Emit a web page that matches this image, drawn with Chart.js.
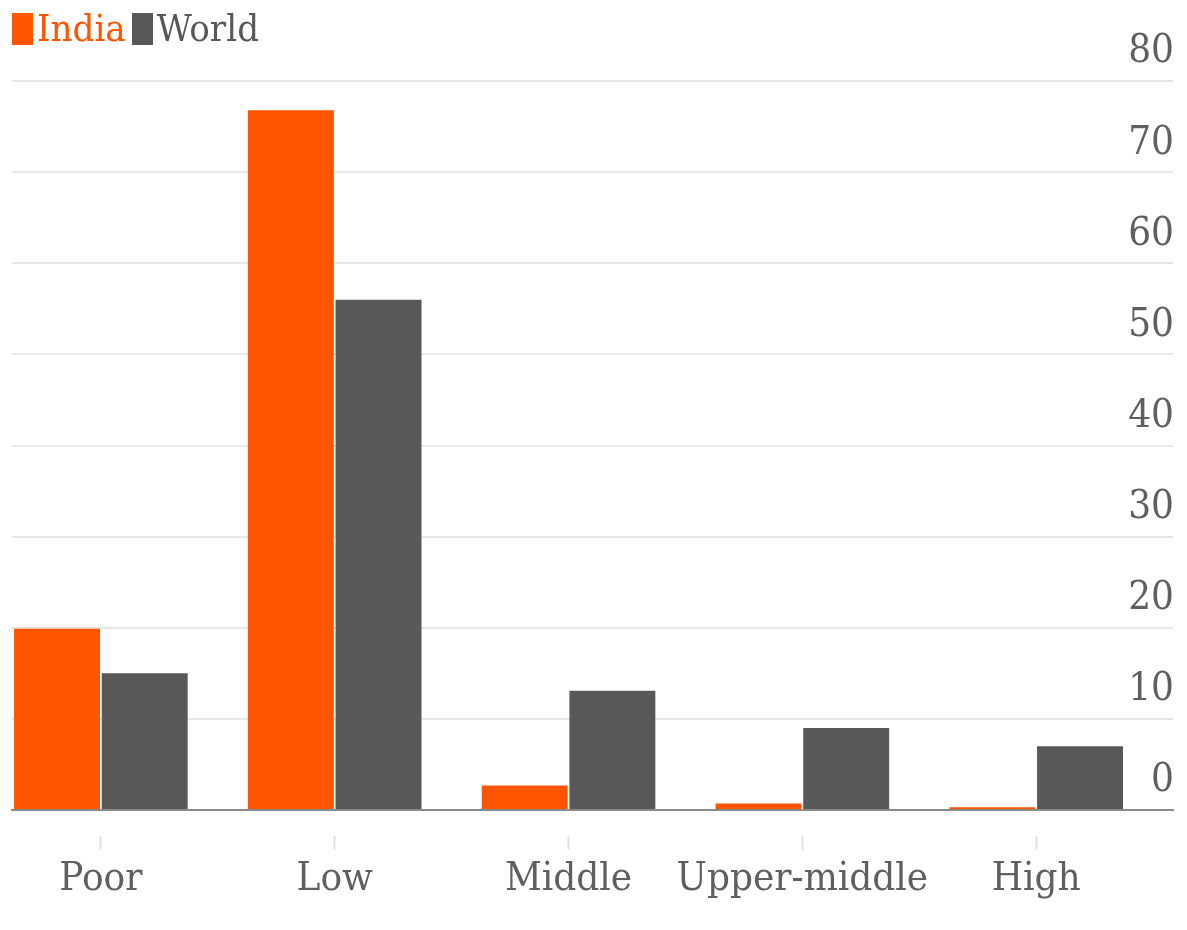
<!DOCTYPE html>
<html>
<head>
<meta charset="utf-8">
<script src="https://cdn.jsdelivr.net/npm/chart.js@4/dist/chart.umd.min.js"></script>
<style>
  html, body { margin: 0; padding: 0; background: #fff; }
  #wrap { position: relative; width: 1187px; height: 930px; }
  #legend { position: absolute; left: 12px; top: 5px; font-family: "DejaVu Serif Condensed", "DejaVu Serif", serif; font-size: 38px; line-height: 46px; white-space: nowrap; }
  #legend .item { display: inline-block; margin-right: 6px; }
  #legend .box { display: inline-block; width: 21px; height: 32px; vertical-align: -4px; margin-right: 4px; }
</style>
</head>
<body>
<div id="wrap">
  <canvas id="chart" width="1187" height="930"></canvas>
  <div id="legend"></div>
</div>
<script>
// Income groups and share of population in each (%)
const categories = ['Poor', 'Low', 'Middle', 'Upper-middle', 'High'];
const indiaValues = [19.9, 76.8, 2.7, 0.7, 0.3];
const worldValues = [15.0, 56.0, 13.1, 9.0, 7.0];
const yTicks = [0, 10, 20, 30, 40, 50, 60, 70, 80];

const ORANGE = '#ff5500';
const GREY = '#585858';
const FONT = '"DejaVu Serif Condensed", "DejaVu Serif", serif';

const series = [
  { label: 'India', values: indiaValues, color: ORANGE },
  { label: 'World', values: worldValues, color: GREY }
];

// Legend
const legend = document.getElementById('legend');
series.forEach(s => {
  const item = document.createElement('span');
  item.className = 'item';
  item.style.color = s.color;
  const box = document.createElement('span');
  box.className = 'box';
  box.style.background = s.color;
  item.appendChild(box);
  item.appendChild(document.createTextNode(s.label));
  legend.appendChild(item);
});

new Chart(document.getElementById('chart'), {
  type: 'bar',
  data: {
    datasets: series.map(s => ({
      label: s.label,
      data: s.values.map((v, i) => ({ x: i, y: v })),
      backgroundColor: s.color,
      borderWidth: 0,
      categoryPercentage: 0.75,
      barPercentage: 0.98
    }))
  },
  options: {
    responsive: false,
    animation: false,
    layout: { padding: { left: 12, right: 12, top: 81, bottom: 20 } },
    plugins: { legend: { display: false }, tooltip: { enabled: false } },
    scales: {
      x: {
        type: 'linear',
        offset: false,
        min: -0.38,
        max: 4.585,
        afterBuildTicks: scale => { scale.ticks = categories.map((c, i) => ({ value: i })); },
        grid: {
          offset: false,
          drawOnChartArea: false,
          drawTicks: true,
          tickLength: 40,
          tickWidth: 2,
          tickColor: '#e2e2e2',
          tickBorderDash: [0, 25, 18, 200]
        },
        border: { display: true, color: '#8a8a8a', width: 2 },
        ticks: {
          autoSkip: false,
          maxRotation: 0,
          padding: 6,
          color: '#5f5f5f',
          font: { family: FONT, size: 40 },
          callback: v => categories[v]
        }
      },
      y: {
        position: 'right',
        min: 0,
        max: 80,
        afterBuildTicks: scale => { scale.ticks = yTicks.map(v => ({ value: v })); },
        grid: {
          drawTicks: false,
          lineWidth: 2,
          color: ctx => (ctx.tick && ctx.tick.value === 0) ? 'rgba(0,0,0,0)' : '#e6e6e6'
        },
        border: { display: false },
        ticks: {
          mirror: true,
          padding: 1,
          labelOffset: -29,
          color: '#5f5f5f',
          font: { family: FONT, size: 40 }
        }
      }
    }
  }
});
</script>
</body>
</html>
